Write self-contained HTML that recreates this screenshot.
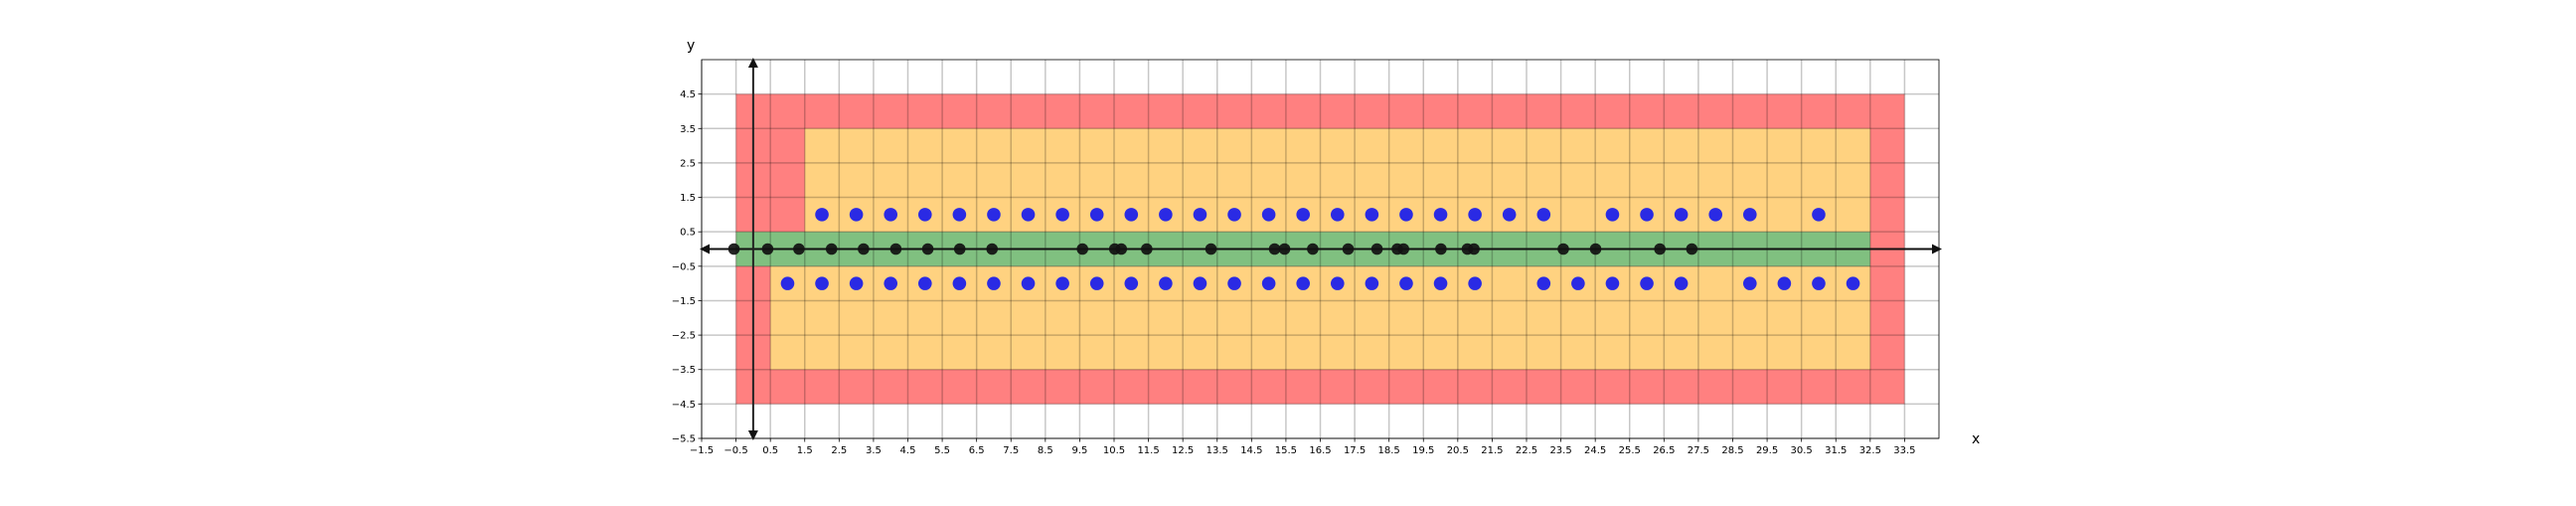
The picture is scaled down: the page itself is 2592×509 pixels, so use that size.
<!DOCTYPE html>
<html><head><meta charset="utf-8"><style>
body{margin:0;background:#fff;width:2592px;height:504px;overflow:hidden}
svg text{font-family:"DejaVu Sans","Liberation Sans",sans-serif;font-size:10px;fill:#000}
</style></head><body>
<svg id="chart" width="2592" height="504" xmlns="http://www.w3.org/2000/svg"></svg>
<script>
const xTicks=[-1.5,-0.5,0.5,1.5,2.5,3.5,4.5,5.5,6.5,7.5,8.5,9.5,10.5,11.5,12.5,13.5,14.5,15.5,16.5,17.5,18.5,19.5,20.5,21.5,22.5,23.5,24.5,25.5,26.5,27.5,28.5,29.5,30.5,31.5,32.5,33.5];
const yTicks=[-5.5,-4.5,-3.5,-2.5,-1.5,-0.5,0.5,1.5,2.5,3.5,4.5];
const blackX=[-0.56,0.42,1.33,2.28,3.21,4.15,5.08,6.01,6.95,9.58,10.52,10.71,11.45,13.32,15.17,15.46,16.28,17.31,18.15,18.74,18.92,20.01,20.78,20.97,23.57,24.51,26.38,27.31];
const blueTopX=[2,3,4,5,6,7,8,9,10,11,12,13,14,15,16,17,18,19,20,21,22,23,25,26,27,28,29,31];
const blueBottomX=[1,2,3,4,5,6,7,8,9,10,11,12,13,14,15,16,17,18,19,20,21,23,24,25,26,27,29,30,31,32];
const regionNames=['red-region','orange-top-region','orange-bottom-region','green-region'];
const regionX0=[-0.5,1.5,0.5,-0.5];
const regionX1=[33.5,32.5,32.5,32.5];
const regionY0=[-4.5,0.5,-3.5,-0.5];
const regionY1=[4.5,3.5,-0.5,0.5];
const regionColors=['#ff8080','#ffd280','#ffd280','#80c080'];

const svg=document.getElementById('chart');
const NS='http://www.w3.org/2000/svg';
const L=706,R=1951,T=60,B=441,xmin=-1.5,xmax=34.5,ymin=-5.5,ymax=5.5;
const sx=v=>L+(v-xmin)/(xmax-xmin)*(R-L);
const sy=v=>B-(v-ymin)/(ymax-ymin)*(B-T);
function mk(tag,attrs){const e=document.createElementNS(NS,tag);for(const k in attrs)e.setAttribute(k,attrs[k]);svg.appendChild(e);return e;}

regionNames.forEach((n,i)=>{
  const r=mk('rect',{x:sx(regionX0[i]),y:sy(regionY1[i]),width:sx(regionX1[i])-sx(regionX0[i]),height:sy(regionY0[i])-sy(regionY1[i]),fill:regionColors[i]});
  
  
});
xTicks.forEach(v=>{
  const g=mk('line',{x1:sx(v),x2:sx(v),y1:T,y2:B,stroke:'#000','stroke-opacity':0.22,'stroke-width':1.5});
  
  
  mk('line',{x1:sx(v),x2:sx(v),y1:B,y2:B+3.5,stroke:'#000','stroke-width':0.8});
  const t=mk('text',{x:sx(v),y:B+15,'text-anchor':'middle'});
  t.textContent=(v<0?'\u2212':'')+Math.abs(v);
  
  
});
yTicks.forEach(v=>{
  const g=mk('line',{x1:L,x2:R,y1:sy(v),y2:sy(v),stroke:'#000','stroke-opacity':0.22,'stroke-width':1.5});
  
  
  mk('line',{x1:L-3.5,x2:L,y1:sy(v),y2:sy(v),stroke:'#000','stroke-width':0.8});
  const t=mk('text',{x:L-6,y:sy(v)+3.5,'text-anchor':'end'});
  t.textContent=(v<0?'\u2212':'')+Math.abs(v);
  
  
});
const frame=mk('rect',{x:L,y:T,width:R-L,height:B-T,fill:'none',stroke:'#000','stroke-width':0.8});



const xa=mk('line',{x1:sx(xmin)+6,x2:sx(xmax)-6,y1:sy(0),y2:sy(0),stroke:'#111','stroke-width':2});


mk('polygon',{points:`${sx(xmin)-2},${sy(0)} ${sx(xmin)+8},${sy(0)-5} ${sx(xmin)+8},${sy(0)+5}`,fill:'#111'});
mk('polygon',{points:`${sx(xmax)+3},${sy(0)} ${sx(xmax)-7},${sy(0)-5} ${sx(xmax)-7},${sy(0)+5}`,fill:'#111'});
const ya=mk('line',{x1:sx(0),x2:sx(0),y1:sy(ymax)+6,y2:sy(ymin)-6,stroke:'#222','stroke-width':2});


mk('polygon',{points:`${sx(0)},${sy(ymax)-2} ${sx(0)-5},${sy(ymax)+8} ${sx(0)+5},${sy(ymax)+8}`,fill:'#111'});
mk('polygon',{points:`${sx(0)},${sy(ymin)+2} ${sx(0)-5},${sy(ymin)-8} ${sx(0)+5},${sy(ymin)-8}`,fill:'#111'});

blueTopX.forEach(v=>{
  const c=mk('circle',{cx:sx(v),cy:sy(1),r:6.8,fill:'#2a2ae4'});
  
  
});
blueBottomX.forEach(v=>{
  const c=mk('circle',{cx:sx(v),cy:sy(-1),r:6.8,fill:'#2a2ae4'});
  
  
});
blackX.forEach(v=>{
  const c=mk('circle',{cx:sx(v),cy:sy(0),r:5.8,fill:'#111','fill-opacity':0.92});
  
  
});

const xl=mk('text',{x:1984,y:446,style:'font-size:14px'});xl.textContent='x';


const yl=mk('text',{x:691,y:50,style:'font-size:14px'});yl.textContent='y';


</script>
</body></html>
